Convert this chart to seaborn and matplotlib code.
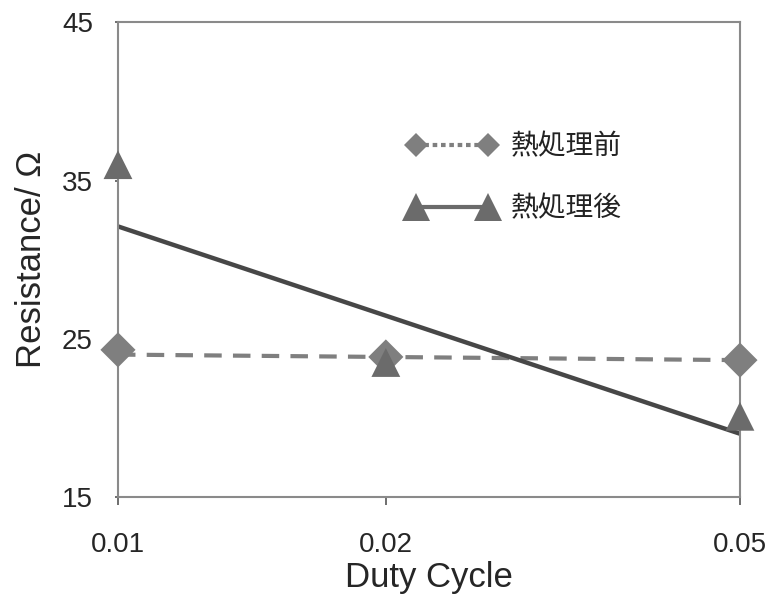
import numpy as np
import pandas as pd
import matplotlib
matplotlib.use("Agg")
import matplotlib.pyplot as plt
from matplotlib.lines import Line2D
import seaborn as sns

# Measured resistance by duty cycle
duty = [0.01, 0.02, 0.05]
before = [24.3, 23.85, 23.65]   # 熱処理前
after = [36.0, 23.5, 20.1]      # 熱処理後

# Linear trend lines (endpoints at the first and last duty cycle)
trend_x = [0.01, 0.05]
trend_before = [24.0, 23.65]
trend_after = [32.1, 19.0]

series_names = ["熱処理前", "熱処理後"]
x_ticks = [0.01, 0.02, 0.05]
y_ticks = [15, 25, 35, 45]

sns.set_theme(style="white")
plt.rcParams["font.family"] = ["Liberation Sans", "Noto Sans CJK JP", "DejaVu Sans"]

fig = plt.figure(figsize=(7.66, 6.01), dpi=100)
ax = fig.add_axes([0.154, 0.173, 0.812, 0.790])

c_before = "#7f7f7f"
c_after = "#6b6b6b"
c_line_after = "#474747"

df_trend_b = pd.DataFrame({"x": trend_x, "y": trend_before})
df_trend_a = pd.DataFrame({"x": trend_x, "y": trend_after})
sns.lineplot(data=df_trend_b, x="x", y="y", ax=ax, color=c_before, lw=3.0,
             zorder=2)
ax.lines[-1].set_dashes((4.2, 2.7))
sns.lineplot(data=df_trend_a, x="x", y="y", ax=ax, color=c_line_after, lw=3.2,
             zorder=2)

df_b = pd.DataFrame({"x": duty, "y": before})
df_a = pd.DataFrame({"x": duty, "y": after})
sns.scatterplot(data=df_b, x="x", y="y", ax=ax, marker="D", s=320,
                color=c_before, edgecolor="none", clip_on=False, zorder=3)
sns.scatterplot(data=df_a, x="x", y="y", ax=ax, marker="^", s=430,
                color=c_after, edgecolor="none", clip_on=False, zorder=4)

ax.set_xscale("log")
ax.set_xlim(0.01, 0.05)
ax.set_ylim(15, 45)
ax.set_xticks(x_ticks)
ax.set_xticklabels([f"{v:.2f}" for v in x_ticks])
ax.xaxis.set_minor_locator(matplotlib.ticker.NullLocator())
ax.set_yticks(y_ticks)
ax.set_yticklabels([str(v) for v in y_ticks])

ax.tick_params(axis="x", direction="out", length=6, width=1.2, color="#555555",
               labelsize=20, pad=19, bottom=True)
ax.tick_params(axis="y", direction="out", length=2, width=1.2, color="#555555",
               labelsize=20, pad=16, left=True)

for s in ax.spines.values():
    s.set_visible(True)
    s.set_color("#8a8a8a")
    s.set_linewidth(1.5)

ax.set_xlabel("Duty Cycle", fontsize=25, labelpad=2)
ax.set_ylabel("Resistance/ Ω", fontsize=25, labelpad=10)

handles = [
    Line2D([], [], color=c_before, lw=3.0, ls=(0, (1.1, 0.9)), marker="D",
           markersize=12, markeredgewidth=0),
    Line2D([], [], color=c_after, lw=3.0, marker="^", markersize=20,
           markeredgewidth=0),
]
leg = fig.legend(handles, series_names, loc="center left",
                 bbox_to_anchor=(0.514, 0.705), frameon=False, numpoints=2,
                 borderpad=0, handlelength=3.2, handletextpad=0.5,
                 labelspacing=1.15,
                 prop={"family": ["Noto Sans CJK JP"], "size": 20})
for t in leg.get_texts():
    t.set_color("#222222")

fig.savefig("out.png", dpi=100)
